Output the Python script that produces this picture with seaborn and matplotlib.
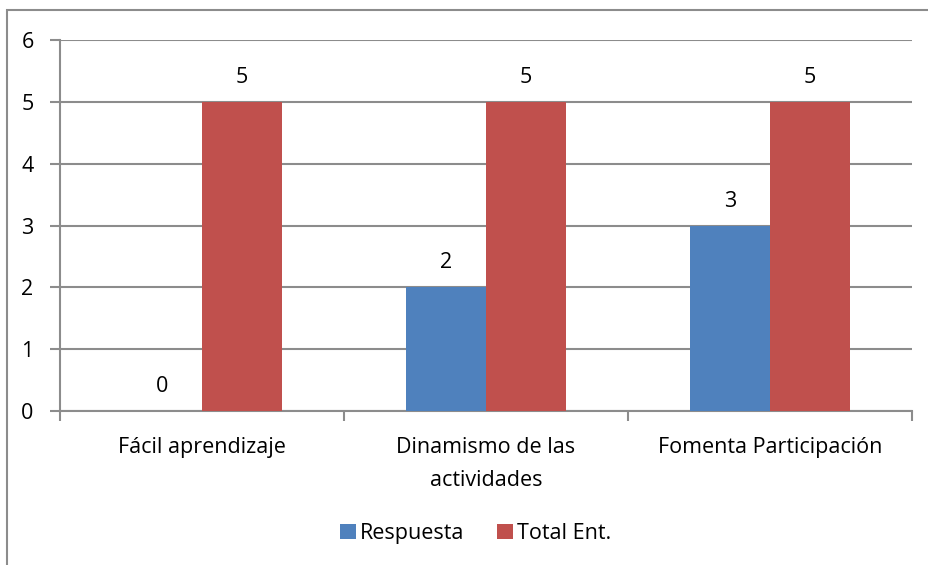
import pandas as pd
import seaborn as sns
import matplotlib.pyplot as plt
from matplotlib.patches import Rectangle
from matplotlib.ticker import FixedLocator

categories = ["Fácil aprendizaje", "Dinamismo de las\nactividades", "Fomenta Participación"]
respuesta = [0, 2, 3]
total_ent = [5, 5, 5]
series = ["Respuesta", "Total Ent."]
colors = ["#4F81BD", "#C0504D"]

df = pd.DataFrame({
    "categoria": categories * 2,
    "valor": respuesta + total_ent,
    "serie": [series[0]] * 3 + [series[1]] * 3,
})

sns.set_style("white")
plt.rcParams["font.family"] = ["Open Sans", "DejaVu Sans"]
plt.rcParams["text.color"] = "black"
plt.rcParams["xtick.labelcolor"] = "black"
plt.rcParams["ytick.labelcolor"] = "black"
fs = 15.5

fig = plt.figure(figsize=(9.29, 5.65), dpi=100)
ax = fig.add_axes([60 / 929, 1 - 411 / 565, (912 - 60) / 929, (411 - 40) / 565])

# outer chart border
fig.patches.append(Rectangle((7 / 929, -0.05), 1.1, 1 - 10 / 565 + 0.05,
                             transform=fig.transFigure, fill=False,
                             edgecolor="#8c8c8c", linewidth=1.5, zorder=0))

sns.barplot(data=df, x="categoria", y="valor", hue="serie", palette=colors,
            width=0.56, gap=0, saturation=1, linewidth=0, ax=ax, zorder=3)

for cont in ax.containers:
    ax.bar_label(cont, fmt="%d", padding=10, fontsize=fs, color="black")

ax.set_ylim(0, 6)
ax.set_xlim(-0.5, 2.5)
ax.set_yticks(range(7))
ax.yaxis.grid(True, color="#8c8c8c", linewidth=1.5, zorder=0)
ax.set_axisbelow(True)
for side in ["top", "right"]:
    ax.spines[side].set_visible(False)
for side in ["left", "bottom"]:
    ax.spines[side].set_color("#8c8c8c")
    ax.spines[side].set_linewidth(1.5)

ax.tick_params(axis="y", which="major", length=7, width=1.5, color="#8c8c8c",
               labelsize=fs, pad=12, left=True)
ax.tick_params(axis="x", which="major", length=0, labelsize=fs, pad=19)
for lbl in ax.get_xticklabels():
    lbl.set_linespacing(1.75)
ax.xaxis.set_minor_locator(FixedLocator([-0.5, 0.5, 1.5, 2.5]))
ax.tick_params(axis="x", which="minor", length=7, width=1.5, color="#8c8c8c", bottom=True)
ax.set_xlabel("")
ax.set_ylabel("")

ax.legend(loc="center", bbox_to_anchor=(0.488, -0.33), ncol=2, frameon=False,
          fontsize=fs, handlelength=0.75, handleheight=0.75, handletextpad=0.2,
          columnspacing=1.5)

fig.savefig("out.png", dpi=100)
